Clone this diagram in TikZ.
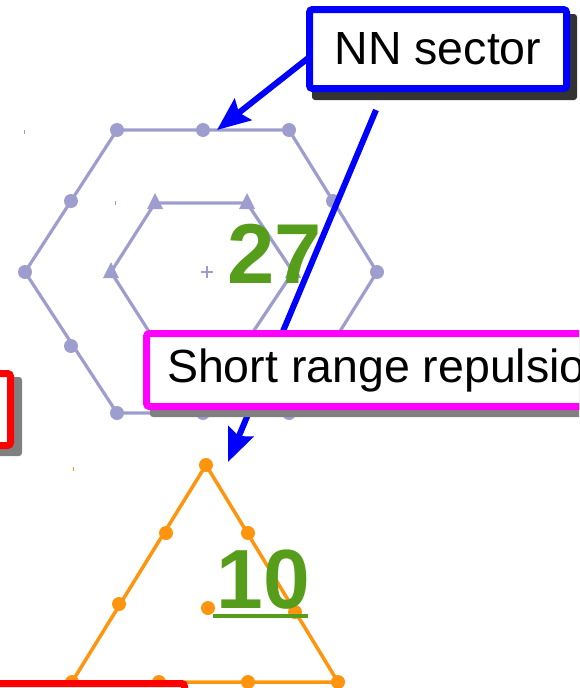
\documentclass[tikz,border=0pt]{standalone}
\usepackage{fontspec}
\setmainfont{Liberation Sans}
\usetikzlibrary{arrows.meta,calc}
\definecolor{lav}{RGB}{158,158,206}
\definecolor{orng}{RGB}{255,149,14}
\definecolor{grn}{RGB}{87,157,28}
\definecolor{shadowdark}{RGB}{51,51,51}
\definecolor{shadowgray}{RGB}{128,128,128}
\definecolor{magbox}{RGB}{255,0,255}
\definecolor{bluebox}{RGB}{0,0,255}
\definecolor{redbox}{RGB}{255,0,0}
\pgfdeclarelayer{shapes}
\pgfdeclarelayer{conns}
\pgfsetlayers{shapes,conns,main}
\begin{document}
\begin{tikzpicture}[x=1pt,y=-1pt,
  hexline/.style={draw=lav,line width=3.2pt,line join=round},
  triline/.style={draw=orng,line width=3.5pt,line join=round},
  arrowconn/.style={draw=bluebox,line width=6pt,-{Stealth[length=33pt,width=27pt,inset=5pt]}},
  labelbox/.style={draw,line width=7pt,fill=white,rounded corners=3pt,inner sep=0pt,outer sep=0pt,font=\fontsize{46.5}{50}\selectfont},
  bignum/.style={text=grn,inner sep=0pt,outer sep=0pt,anchor=base west},
  tickmark/.style={line width=1pt}
]
\useasboundingbox (0,0) rectangle (579,688);
\clip (0,0) rectangle (579,688);

\begin{pgfonlayer}{shapes}
  % outer hexagon
  \draw[hexline] (117,130) -- (289,130) -- (377,272) -- (289,413) -- (117,413) -- (25,272) -- cycle;
  \foreach \p in {(117,130),(203,130),(289,130),(333,201),(377,272),(333,343),(289,413),(203,413),(117,413),(71,346),(25,272),(71,201)}
    \fill[lav] \p circle[radius=7];
  % inner hexagon
  \draw[hexline] (155,203) -- (247,203) -- (293,272) -- (247,341) -- (155,341) -- (111,272) -- cycle;
  \foreach \p in {(155,203),(247,203),(293,272),(247,341),(155,341),(111,272)}
    \fill[lav] \p ++(0,-10) -- ++(8,16) -- ++(-16,0) -- cycle;
  % centre cross
  \draw[lav,line width=2.8pt] (201,272) -- (213,272) (207,266) -- (207,278);
  % tiny marks
  \draw[lav,tickmark] (24,130) -- (24,134) (115,201) -- (115,205);
  \draw[orng,tickmark] (73,467) -- (73,471);
  % orange triangle
  \draw[triline] (206,465) -- (338,682) -- (72,682) -- cycle;
  \foreach \p in {(206,465),(166,533),(119,604),(72,682),(159,682),(248,682),(338,682),(295,612),(248,533),(208,608)}
    \fill[orng] \p circle[radius=7];
  % numbers
  \node[bignum,font=\fontsize{85}{90}\selectfont\bfseries] (n27) at (227.5,283) {27};
  \node[bignum,font=\fontsize{84}{90}\selectfont\bfseries] (n10) at (216.5,608) {10};
  \draw[grn,line width=4pt] ($(n10.base west)+(-3.5,8)$) -- ($(n10.base east)+(-2,8)$);
\end{pgfonlayer}

% shadows
\fill[shadowdark,rounded corners=3pt] (312,14) rectangle (577,100);
\fill[shadowgray,rounded corners=3pt] (150,339) rectangle (660,417);
\fill[shadowgray,rounded corners=3pt] (-30,377) rectangle (22,456);
\fill[shadowgray,rounded corners=3pt] (-30,688) rectangle (196,730);

% red boxes (partly outside)
\draw[redbox,line width=7pt,fill=white,rounded corners=3pt] (-40,373.5) rectangle (10.5,445.5);
\draw[redbox,line width=7pt,fill=white,rounded corners=3pt] (-40,683.5) rectangle (184.5,740);

% labelled boxes
\node[labelbox,draw=bluebox,minimum width=257pt,minimum height=79pt] (nn) at (438,49) {NN sector};
\node[labelbox,draw=magbox,anchor=west,inner xsep=20.5pt,minimum height=73pt] (sr) at (146.5,370) {Short range repulsion};

% connectors
\coordinate (tipA) at (217,130);
\coordinate (srcB) at (376,110);
\coordinate (tipB) at (228,462);
\begin{pgfonlayer}{conns}
  \draw[arrowconn] ($(nn.west)+(0,8)$) -- (tipA);
  \draw[arrowconn] (srcB) -- (tipB);
\end{pgfonlayer}
\end{tikzpicture}
\end{document}
